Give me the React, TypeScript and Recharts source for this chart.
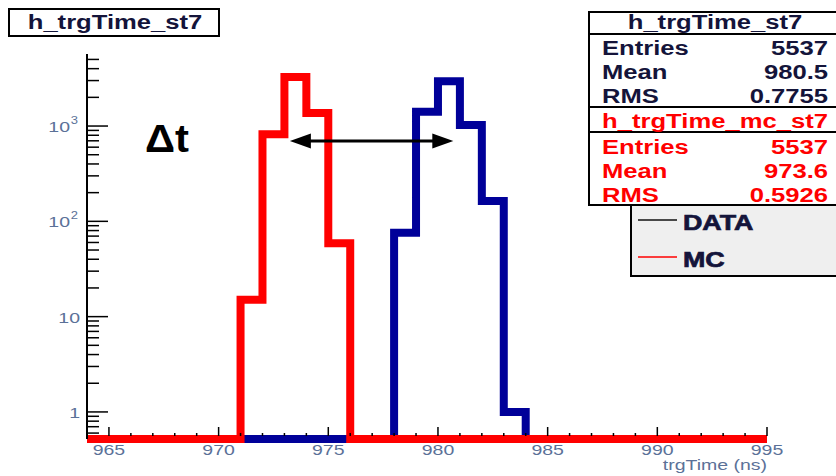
import React from 'react';
import { ComposedChart, Line, XAxis, YAxis, ReferenceLine, Legend } from 'recharts';

// ---- data (1 ns bins, low edges 964 .. 994, final edge 995) ----
const BIN_EDGES = [
  964, 965, 966, 967, 968, 969, 970, 971, 972, 973, 974, 975, 976, 977, 978, 979,
  980, 981, 982, 983, 984, 985, 986, 987, 988, 989, 990, 991, 992, 993, 994, 995,
];
const DATA_COUNTS = [
  0, 0, 0, 0, 0, 0, 0, 0, 0, 0, 0, 0, 0, 0, 76, 1413,
  2951, 1024, 163, 1, 0, 0, 0, 0, 0, 0, 0, 0, 0, 0, 0,
];
const MC_COUNTS = [
  0, 0, 0, 0, 0, 0, 0, 15, 820, 3275, 1368, 59, 0, 0, 0, 0,
  0, 0, 0, 0, 0, 0, 0, 0, 0, 0, 0, 0, 0, 0, 0,
];
const SERIES_NAMES = ['DATA', 'MC'];
const X_TICKS = [
  965, 966, 967, 968, 969, 970, 971, 972, 973, 974, 975, 976, 977, 978, 979, 980,
  981, 982, 983, 984, 985, 986, 987, 988, 989, 990, 991, 992, 993, 994, 995,
];
const X_MAJOR = [965, 970, 975, 980, 985, 990, 995];
const Y_TICKS = [
  0.6, 0.7, 0.8, 0.9, 1, 2, 3, 4, 5, 6, 7, 8, 9, 10, 20, 30, 40, 50, 60, 70, 80, 90,
  100, 200, 300, 400, 500, 600, 700, 800, 900, 1000, 2000, 3000, 4000, 5000,
];
const Y_LABELS: Record<string, [string, string]> = {
  '1': ['1', ''],
  '10': ['10', ''],
  '100': ['10', '2'],
  '1000': ['10', '3'],
};
const Y_DOMAIN = [0.52, 5700];
const X_DOMAIN = [964, 995];
const X_TITLE = 'trgTime (ns)';
const HIST_TITLE = 'h_trgTime_st7';
const MC_TITLE = 'h_trgTime_mc_st7';
const STATS_DATA: [string, string][] = [
  ['Entries', '5537'],
  ['Mean', '980.5'],
  ['RMS', '0.7755'],
];
const STATS_MC: [string, string][] = [
  ['Entries', '5537'],
  ['Mean', '973.6'],
  ['RMS', '0.5926'],
];
const DELTA_T_RANGE = [973.25, 980.7];
const DELTA_T_LEVEL = 695;

// ---- styling ----
const FONT = '"Liberation Sans", Arial, Helvetica, sans-serif';
const AXIS_TEXT = '#5b7198';
const TEXT_DARK = '#14143a';
const BLUE = '#000099';
const RED = '#ff0000';
const LEGEND_LINE: Record<string, string> = { DATA: '#111111', MC: RED };

const rows = BIN_EDGES.map((t, i) => {
  const d = DATA_COUNTS[Math.min(i, DATA_COUNTS.length - 1)];
  const m = MC_COUNTS[Math.min(i, MC_COUNTS.length - 1)];
  return { t, data: d > 0 ? d : Y_DOMAIN[0], mc: m > 0 ? m : Y_DOMAIN[0] };
});

type STextProps = {
  x: number;
  y: number;
  anchor?: 'start' | 'middle' | 'end';
  size: number;
  bold?: boolean;
  fill: string;
  sx?: number;
  heavy?: number;
  children: React.ReactNode;
};
const SText = ({ x, y, anchor = 'start', size, bold = false, fill, sx = 1.22, heavy = 0, children }: STextProps) => (
  <text
    transform={`translate(${x},${y}) scale(${sx},1)`}
    textAnchor={anchor}
    fontFamily={FONT}
    fontSize={size}
    fontWeight={bold ? 700 : 400}
    fill={fill}
    stroke={heavy > 0 ? fill : 'none'}
    strokeWidth={heavy}
    style={{ fontWeight: bold ? 700 : 400, fontFamily: FONT, fontSize: size }}
  >
    {children}
  </text>
);

const XTick = (props: any) => {
  const { x, y, payload } = props;
  const v = payload.value;
  const major = X_MAJOR.includes(v);
  return (
    <g>
      <line x1={x} x2={x} y1={y - 3} y2={y - (major ? 12 : 6)} stroke="#000" strokeWidth={1.5} />
      {major && (
        <SText x={x} y={y + 16} anchor="middle" size={15} fill={AXIS_TEXT} sx={1.3}>
          {v}
        </SText>
      )}
    </g>
  );
};

const YTick = (props: any) => {
  const { x, y, payload } = props;
  const lab = Y_LABELS[String(payload.value)];
  return (
    <g>
      <line x1={x} x2={x + (lab ? 21 : 12)} y1={y} y2={y} stroke="#000" strokeWidth={1.5} />
      {lab &&
        (lab[1] ? (
          <g>
            <SText x={x - 17} y={y + 6} anchor="end" size={15} fill={AXIS_TEXT} sx={1.3}>
              {lab[0]}
            </SText>
            <SText x={x - 9} y={y - 2} anchor="end" size={10} fill={AXIS_TEXT} sx={1.3}>
              {lab[1]}
            </SText>
          </g>
        ) : (
          <SText x={x - 7} y={y + 6} anchor="end" size={15} fill={AXIS_TEXT} sx={1.3}>
            {lab[0]}
          </SText>
        ))}
    </g>
  );
};

const ArrowShape = (props: any) => {
  const { x1, y1, x2, y2 } = props;
  const hl = 21;
  const hw = 7.5;
  return (
    <g>
      <line x1={x1 + hl - 2} y1={y1} x2={x2 - hl + 2} y2={y2} stroke="#000" strokeWidth={3} />
      <polygon points={`${x1},${y1} ${x1 + hl},${y1 - hw} ${x1 + hl},${y1 + hw}`} fill="#000" />
      <polygon points={`${x2},${y2} ${x2 - hl},${y2 - hw} ${x2 - hl},${y2 + hw}`} fill="#000" />
    </g>
  );
};

const LegendBox = (props: any) => {
  const items = props.payload ?? [];
  return (
    <svg width={215} height={74} style={{ display: 'block' }}>
      <rect x={1} y={1} width={225} height={71} fill="#efefef" stroke="#000" strokeWidth={2} />
      {items.map((it: any, i: number) => (
        <g key={i}>
          <line
            x1={8}
            x2={47}
            y1={16 + i * 37}
            y2={16 + i * 37}
            stroke={LEGEND_LINE[it.value] ?? it.color}
            strokeWidth={1.6}
          />
          <SText x={53} y={26 + i * 37} size={22} bold heavy={0.7} fill={TEXT_DARK}>
            {it.value}
          </SText>
        </g>
      ))}
    </svg>
  );
};

const StatsBlock = ({ top, title, items, color }: { top: number; title: string; items: [string, string][]; color: string }) => (
  <g>
    <SText x={715} y={top + 17} anchor="middle" size={21} bold fill={color}>
      {title}
    </SText>
    {items.map((it, i) => (
      <g key={i}>
        <SText x={602} y={top + 43 + i * 24} size={21} bold fill={color}>
          {it[0]}
        </SText>
        <SText x={828} y={top + 43 + i * 24} anchor="end" size={21} bold fill={color}>
          {it[1]}
        </SText>
      </g>
    ))}
  </g>
);

export default function App() {
  return (
    <div
      style={{
        position: 'absolute',
        left: 0,
        top: 0,
        width: 836,
        height: 476,
        overflow: 'hidden',
        background: '#ffffff',
      }}
    >
      <ComposedChart
        width={836}
        height={476}
        data={rows}
        margin={{ top: 54, right: 69, bottom: 0, left: 0 }}
      >
        <XAxis
          dataKey="t"
          type="number"
          domain={X_DOMAIN}
          ticks={X_TICKS}
          interval={0}
          tickSize={0}
          tickMargin={0}
          tickLine={false}
          axisLine={false}
          tick={<XTick />}
          height={37}
        />
        <XAxis
          xAxisId="top"
          orientation="top"
          type="number"
          domain={X_DOMAIN}
          tick={false}
          tickLine={false}
          height={0}
          axisLine={{ stroke: '#000', strokeWidth: 2 }}
        />
        <YAxis
          type="number"
          scale="log"
          domain={Y_DOMAIN}
          ticks={Y_TICKS}
          interval={0}
          tickSize={0}
          tickMargin={0}
          tickLine={false}
          tick={<YTick />}
          width={87}
          axisLine={{ stroke: '#000', strokeWidth: 2 }}
        />
        <YAxis
          yAxisId="right"
          orientation="right"
          type="number"
          domain={[0, 1]}
          tick={false}
          tickLine={false}
          width={0}
          axisLine={{ stroke: '#000', strokeWidth: 2 }}
        />
        <Line
          type="stepAfter"
          dataKey="data"
          name={SERIES_NAMES[0]}
          stroke={BLUE}
          strokeWidth={8}
          strokeLinejoin="miter"
          dot={false}
          activeDot={false}
          isAnimationActive={false}
        />
        <Line
          type="stepAfter"
          dataKey="mc"
          name={SERIES_NAMES[1]}
          stroke={RED}
          strokeWidth={8}
          strokeLinejoin="miter"
          dot={false}
          activeDot={false}
          isAnimationActive={false}
        />
        <ReferenceLine
          segment={[
            { x: DELTA_T_RANGE[0], y: DELTA_T_LEVEL },
            { x: DELTA_T_RANGE[1], y: DELTA_T_LEVEL },
          ]}
          shape={ArrowShape}
        />
        <Legend
          layout="vertical"
          align="center"
          verticalAlign="middle"
          content={<LegendBox />}
          wrapperStyle={{ left: 630, top: 204, width: 215, height: 74, margin: 0, padding: 0, fontWeight: 700 }}
        />
      </ComposedChart>
      <svg
        width={836}
        height={476}
        style={{ position: 'absolute', left: 0, top: 0, pointerEvents: 'none' }}
      >
        <rect x={9} y={9} width={210} height={27} fill="#fff" stroke="#000" strokeWidth={2} />
        <SText x={115} y={29} anchor="middle" size={21} bold fill={TEXT_DARK}>
          {HIST_TITLE}
        </SText>
        <rect x={589} y={12} width={260} height={193} fill="#fff" stroke="#000" strokeWidth={2} />
        <line x1={589} x2={840} y1={34} y2={34} stroke="#000" strokeWidth={2} />
        <line x1={589} x2={840} y1={107} y2={107} stroke="#000" strokeWidth={2} />
        <line x1={589} x2={840} y1={132} y2={132} stroke="#000" strokeWidth={2} />
        <StatsBlock top={12} title={HIST_TITLE} items={STATS_DATA} color={TEXT_DARK} />
        <StatsBlock top={111} title={MC_TITLE} items={STATS_MC} color={RED} />
        <SText x={145} y={152} size={38} bold fill="#000" sx={1.1}>
          Δt
        </SText>
        <SText x={767} y={470} anchor="end" size={15} fill={AXIS_TEXT} sx={1.3}>
          {X_TITLE}
        </SText>
      </svg>
    </div>
  );
}
